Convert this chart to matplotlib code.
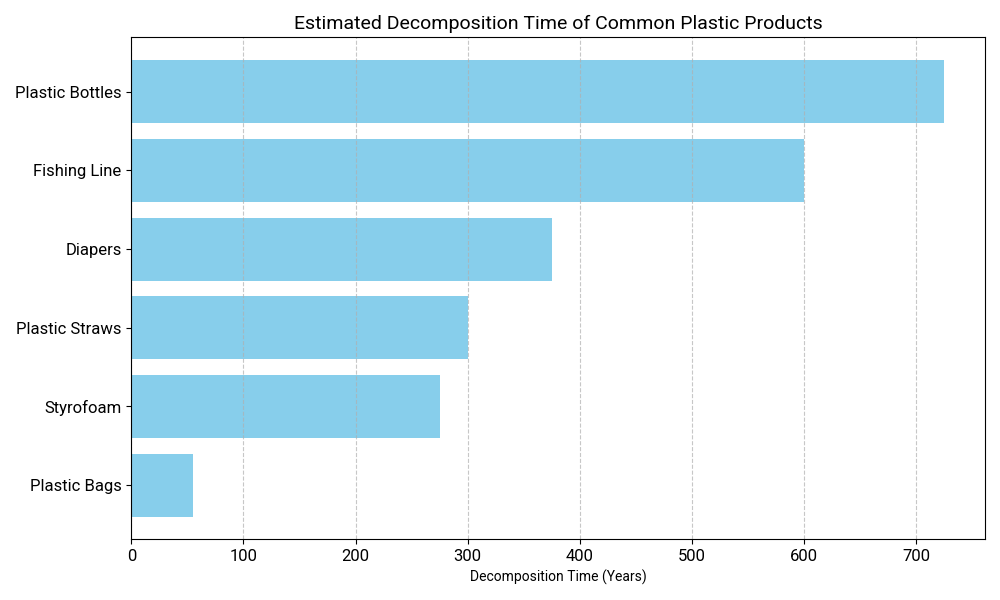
import matplotlib
matplotlib.use("Agg")
import matplotlib.pyplot as plt

plt.rcParams["font.family"] = ["Roboto", "DejaVu Sans"]

products = ["Plastic Bags", "Styrofoam", "Plastic Straws", "Diapers", "Fishing Line", "Plastic Bottles"]
years = [55, 275, 300, 375, 600, 725]

fig, ax = plt.subplots(figsize=(10, 6), dpi=100)
ax.barh(products, years, color="skyblue")
ax.set_title("Estimated Decomposition Time of Common Plastic Products", fontsize=14)
ax.set_xlabel("Decomposition Time (Years)", fontsize=10)
ax.tick_params(axis="both", labelsize=12)
# dashed vertical grid, drawn over the bars
ax.grid(axis="x", linestyle="--", alpha=0.7)

plt.tight_layout()
plt.savefig("out.png")
